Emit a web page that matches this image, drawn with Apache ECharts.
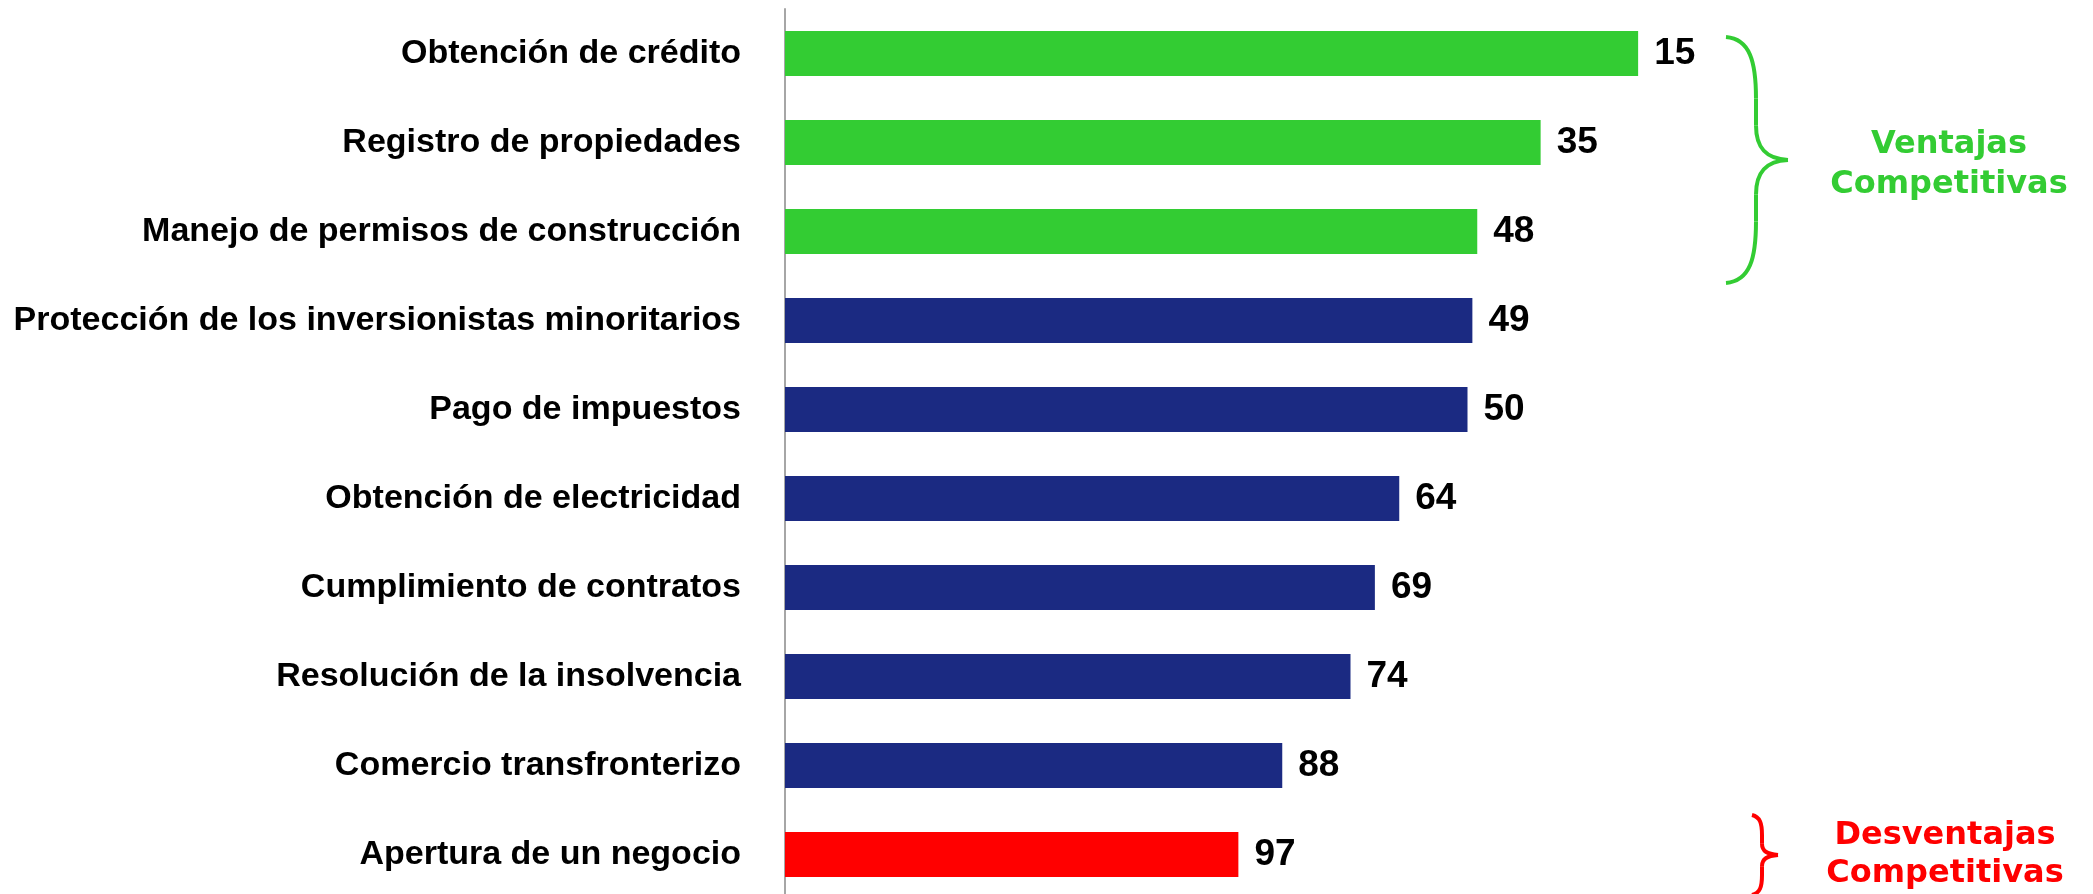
<!DOCTYPE html>
<html>
<head>
<meta charset="utf-8">
<title>Doing Business</title>
<script src="https://cdn.jsdelivr.net/npm/echarts@6/dist/echarts.min.js"></script>
<style>
	html, body {
		margin: 0;
		padding: 0;
		background: #fff;
	}
	#chart {
		width: 2093px;
		height: 894px;
	}
</style>
</head>
<body>
<div id="chart"></div>
<script>
	// indicadores y posicion en el ranking
	var categories = [
		'Obtención de crédito',
		'Registro de propiedades',
		'Manejo de permisos de construcción',
		'Protección de los inversionistas minoritarios',
		'Pago de impuestos',
		'Obtención de electricidad',
		'Cumplimiento de contratos',
		'Resolución de la insolvencia',
		'Comercio transfronterizo',
		'Apertura de un negocio'
	];
	var ranks = [15, 35, 48, 49, 50, 64, 69, 74, 88, 97];
	var groups = ['ventaja', 'ventaja', 'ventaja', 'neutral', 'neutral', 'neutral', 'neutral', 'neutral', 'neutral', 'desventaja'];
	var totalEconomies = 190;

	var groupColors = {
		ventaja: '#33CC33',
		neutral: '#1B2A82',
		desventaja: '#FF0000'
	};

	var labelFont = '"Liberation Sans", Arial, sans-serif';

	// la barra mide lo que falta para llegar al ultimo lugar
	var barData = [];
	for (var i = 0; i < ranks.length; i++) {
		barData.push({
			value: totalEconomies - ranks[i],
			itemStyle: {color: groupColors[groups[i]]}
		});
	}

	// llave "}" hecha con curvas
	function brace(x0, x1, x2, top, bottom, color) {
		var mid = (top + bottom) / 2;
		var h = bottom - top;
		var style = {stroke: color, lineWidth: 4, fill: null};
		var curve = function (ax, ay, bx, by, c1x, c1y, c2x, c2y) {
			return {
				type: 'bezierCurve',
				shape: {x1: ax, y1: ay, x2: bx, y2: by, cpx1: c1x, cpy1: c1y, cpx2: c2x, cpy2: c2y},
				style: style
			};
		};
		var line = function (ay, by) {
			return {type: 'line', shape: {x1: x1, y1: ay, x2: x1, y2: by}, style: style};
		};
		var a = top + h * 0.25, b = mid - h * 0.14;
		var c = mid + h * 0.14, d = bottom - h * 0.25;
		return [
			curve(x0, top, x1, a, x0 + (x1 - x0) * 0.8, top + 2, x1, top + h * 0.1),
			line(a, b),
			curve(x1, b, x2, mid, x1, mid - h * 0.05, x1 + (x2 - x1) * 0.3, mid - 1),
			curve(x2, mid, x1, c, x1 + (x2 - x1) * 0.3, mid + 1, x1, mid + h * 0.05),
			line(c, d),
			curve(x1, d, x0, bottom, x1, bottom - h * 0.1, x0 + (x1 - x0) * 0.8, bottom - 2)
		];
	}

	var myChart = echarts.init(document.getElementById('chart'));

	myChart.setOption({
		animation: false,
		backgroundColor: '#fff',
		grid: {
			left: 785,
			top: 9,
			width: 975,
			height: 890,
			containLabel: false,
			outerBoundsMode: 'none'
		},
		xAxis: {
			type: 'value',
			min: 0,
			max: 200,
			show: false
		},
		yAxis: {
			type: 'category',
			inverse: true,
			data: categories,
			axisLine: {
				show: true,
				lineStyle: {color: '#A6A6A6', width: 2}
			},
			axisTick: {show: false},
			axisLabel: {
				margin: 44,
				color: '#000',
				fontFamily: labelFont,
				fontWeight: 'bold',
				fontSize: 34
			}
		},
		series: [
			{
				type: 'bar',
				barWidth: 45,
				data: barData,
				label: {
					show: true,
					position: 'right',
					distance: 16,
					color: '#000',
					fontFamily: labelFont,
					fontWeight: 'bold',
					fontSize: 37,
					formatter: function (p) {
						return ranks[p.dataIndex];
					}
				}
			}
		],
		graphic: brace(1726, 1756, 1788, 37, 283, '#33CC33')
			.concat(brace(1752, 1762, 1778, 815, 895, '#FF0000'))
			.concat([
				{
					type: 'text',
					x: 1949,
					y: 165,
					style: {
						text: 'Ventajas\nCompetitivas',
						align: 'center',
						verticalAlign: 'middle',
						fill: '#33CC33',
						font: 'bold 32px "DejaVu Sans"',
						lineHeight: 40
					}
				},
				{
					type: 'text',
					x: 1945,
					y: 855,
					style: {
						text: 'Desventajas\nCompetitivas',
						align: 'center',
						verticalAlign: 'middle',
						fill: '#FF0000',
						font: 'bold 32px "DejaVu Sans"',
						lineHeight: 38
					}
				}
			])
	});
</script>
</body>
</html>
